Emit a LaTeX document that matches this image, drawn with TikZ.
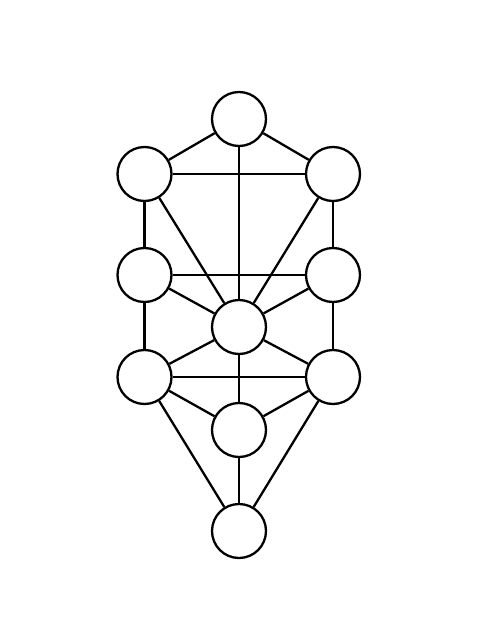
\documentclass[tikz,border=0pt]{standalone}
\begin{document}
\begin{tikzpicture}[x=1pt,y=-1pt,
  sefira/.style={circle,draw=black,line width=2.3pt,minimum size=54pt,inner sep=0pt,fill=white},
  path/.style={draw=black,line width=2.3pt}]
\useasboundingbox (0,0) rectangle (478,640);
\fill[white] (0,0) rectangle (478,640);
\node[sefira] (kether) at (239,119) {};
\node[sefira] (binah) at (144.5,174) {};
\node[sefira] (chokmah) at (333,174) {};
\node[sefira] (geburah) at (144.5,275) {};
\node[sefira] (chesed) at (333,275) {};
\node[sefira] (tiphereth) at (239,327) {};
\node[sefira] (hod) at (144.5,377) {};
\node[sefira] (netzach) at (333,377) {};
\node[sefira] (yesod) at (239,430) {};
\node[sefira] (malkuth) at (239,531) {};
\draw[path] (kether) -- (binah);
\draw[path] (kether) -- (chokmah);
\draw[path] (kether) -- (tiphereth);
\draw[path] (binah) -- (chokmah);
\draw[path] (binah) -- (geburah);
\draw[path] (binah) -- (tiphereth);
\draw[path] (chokmah) -- (chesed);
\draw[path] (chokmah) -- (tiphereth);
\draw[path] (geburah) -- (chesed);
\draw[path] (geburah) -- (tiphereth);
\draw[path] (chesed) -- (tiphereth);
\draw[path] (geburah) -- (hod);
\draw[path] (chesed) -- (netzach);
\draw[path] (tiphereth) -- (hod);
\draw[path] (tiphereth) -- (netzach);
\draw[path] (tiphereth) -- (yesod);
\draw[path] (hod) -- (netzach);
\draw[path] (hod) -- (yesod);
\draw[path] (netzach) -- (yesod);
\draw[path] (hod) -- (malkuth);
\draw[path] (netzach) -- (malkuth);
\draw[path] (yesod) -- (malkuth);
\end{tikzpicture}
\end{document}
